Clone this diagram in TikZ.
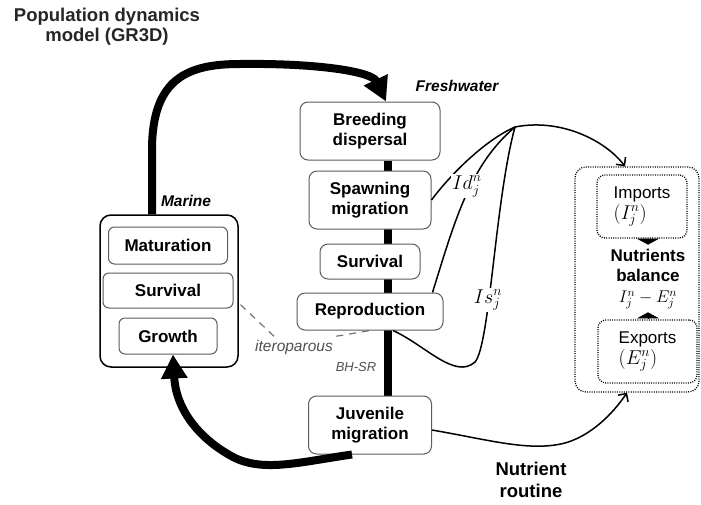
\documentclass[tikz,border=0pt]{standalone}
\usepackage{fix-cm}
\usepackage{fontspec}
\setmainfont{Liberation Sans}
\setsansfont{Liberation Sans}
\usetikzlibrary{positioning,arrows.meta,backgrounds}
\definecolor{boxgray}{HTML}{5C5C5C}
\definecolor{labgray}{HTML}{505050}
\newcommand{\bigmath}[1]{{\fontsize{20}{20}\selectfont$#1$}}

\begin{document}
\begin{tikzpicture}[x=1pt,y=-1pt,
  fw node/.style={draw=boxgray,fill=white,line width=1pt,rounded corners=8pt,align=center,inner sep=0pt,font=\fontsize{17}{20}\selectfont\bfseries},
  mar node/.style={fw node,rounded corners=6pt},
  dot node/.style={draw,line width=1.3pt,dash pattern=on 1pt off 1.3pt,rounded corners=11pt,inner sep=0pt,align=left,font=\fontsize{17}{21}\selectfont},
  big loop/.style={line width=8pt,-{Triangle[width=25pt,length=24pt]}},
  thin link/.style={line width=1.5pt},
  thin arrow/.style={line width=1.5pt,-{Straight Barb[length=6pt,width=12pt,line width=1.5pt]}},
  itero line/.style={draw=labgray!80,line width=1.2pt,dash pattern=on 7pt off 6pt},
  zone label/.style={font=\fontsize{15.5}{18}\selectfont\bfseries\itshape},
  flux label/.style={fill=white,inner sep=1pt,font=\fontsize{20}{20}\selectfont},
  tri tip/.style={line width=0.5pt,-{Triangle[width=22pt,length=6pt]}}]
    \useasboundingbox (0,0) rectangle (701,504);

    % title
    \node[align=center,font=\fontsize{18.5}{20}\selectfont\bfseries,text=black!85] (title) at (107,27) {Population dynamics\\model (GR3D)};

    % freshwater stages
    \node[fw node,minimum width=140pt,minimum height=58pt] (breed) at (370,131) {Breeding\\dispersal};
    \node[fw node,minimum width=122pt,minimum height=58pt] (spawn) [below = 10pt of breed] {Spawning\\migration};
    \node[fw node,minimum width=100pt,minimum height=35pt] (fsurv) [below = 14pt of spawn] {Survival};
    \node[fw node,minimum width=146pt,minimum height=37pt] (repro) [below = 13pt of fsurv] {Reproduction};
    \node[fw node,minimum width=123pt,minimum height=58pt] (juv) [below = 65pt of repro] {Juvenile\\migration};
    \node[zone label] (fresh) at (457,86) {Freshwater};

    % marine stages
    \node[draw,line width=1.5pt,rounded corners=11pt,minimum width=138pt,minimum height=152pt] (marine) at (169,291) {};
    \node[mar node,minimum width=130pt,minimum height=35pt] (msurv) at (168,290.5) {Survival};
    \node[mar node,minimum width=119pt,minimum height=37pt] (matur) [above = 8pt of msurv] {Maturation};
    \node[mar node,minimum width=98pt,minimum height=36pt] (growth) [below = 9pt of msurv] {Growth};
    \node[zone label] (mlab) at (186,201) {Marine};

    % spine of the cycle
    \coordinate (sp) at (388,0);
    \coordinate (loopl) at (152,0);
    \begin{scope}[on background layer]
      \draw[line width=8.5pt] (breed.south -| sp) -- (juv.north -| sp);
    \end{scope}

    % big loop arrows
    \draw[big loop] (marine.north -| loopl) -- (152,150) .. controls (152,78) and (188,64) .. (240,64)
      .. controls (320,63) and (372,72) .. ([xshift=-2pt]breed.north -| sp);
    \draw[big loop] ([xshift=-18pt]juv.south) .. controls (300,462) and (265,472) .. (235,458)
      .. controls (200,440) and (176,410) .. ([xshift=5pt]growth.south);

    % iteroparous
    \node[font=\fontsize{15.5}{18}\selectfont\itshape,text=labgray] (itero) at (294,347) {iteroparous};
    \draw[itero line] ([xshift=-20pt]itero.north) -- ([yshift=-12pt]marine.east);
    \draw[itero line] (itero.north east) -- (repro.south);
    \node[font=\fontsize{13}{15}\selectfont\itshape,text=labgray] (bhsr) at (356,367) {BH-SR};

    % nutrient routine
    \node[dot node,minimum width=124pt,minimum height=225pt] (nutr) at (637,279.5) {};
    \node[dot node,rounded corners=8pt,minimum width=90pt,minimum height=63pt] (imp) at (642,206.5) {Imports\\\bigmath{(I_j^n)}};
    \node[align=center,inner sep=0pt,font=\fontsize{17}{20.5}\selectfont\bfseries] (bal) at (648,279) {Nutrients\\balance\\$I_j^n-E_j^n$};
    \node[dot node,rounded corners=8pt,minimum width=99pt,minimum height=63pt] (exp) at (647.5,351.5) {Exports\\\bigmath{(E_j^n)}};
    \draw[tri tip] (imp.south -| bal.north) -- ([yshift=-6pt]imp.south -| bal.north);
    \draw[tri tip] (exp.north -| bal.south) -- ([yshift=7pt]exp.north -| bal.south);

    \coordinate (hub) at (515,127);
    \draw[thin link] (spawn.east) .. controls (450,175) and (485,140) .. (hub);
    \draw[thin link] ([xshift=-11pt]repro.north east) .. controls (455,220) and (470,165) .. (hub);
    \draw[thin link] ([xshift=5pt]repro.south -| sp) .. controls (425,345) and (455,380) .. (475,362)
      .. controls (490,345) and (495,200) .. (hub);
    \draw[thin arrow] (hub) .. controls (560,118) and (605,140) .. ([xshift=-12pt]nutr.north);
    \draw[thin arrow] ([yshift=-5pt]juv.east) .. controls (490,440) and (530,452) .. (565,443)
      .. controls (590,436) and (612,415) .. ([xshift=-10pt]nutr.south);
    \node[flux label] (idl) at (467,186) {$Id_j^n$};
    \node[flux label] (isl) at (488,300) {$Is_j^n$};

    \node[align=center,font=\fontsize{18.5}{22}\selectfont\bfseries] (routine) at (531,480) {Nutrient\\routine};
\end{tikzpicture}
\end{document}
